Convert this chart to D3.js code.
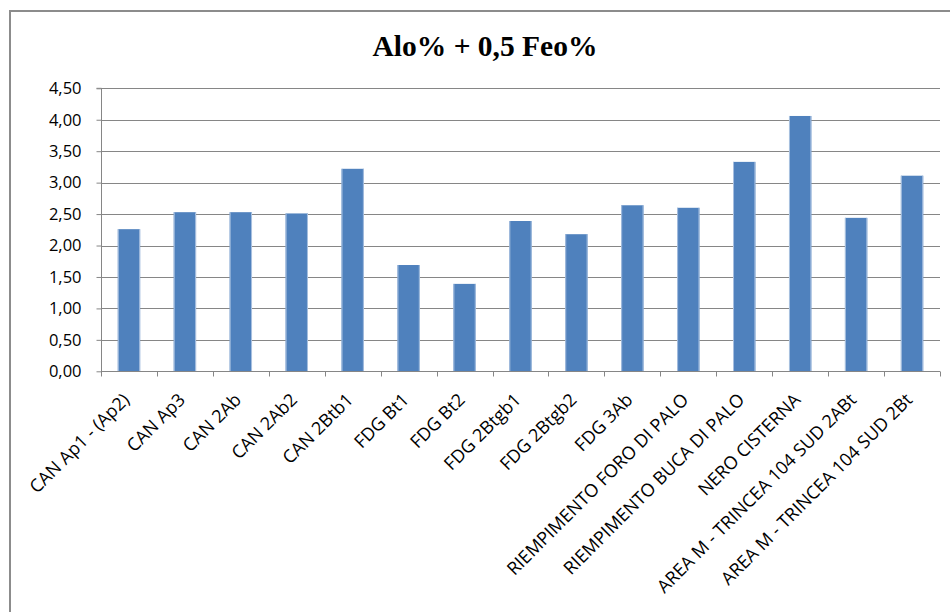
<!DOCTYPE html>
<html>
<head>
<meta charset="utf-8">
<script src="https://cdn.jsdelivr.net/npm/d3@7"></script>
<style>
  html, body { margin: 0; padding: 0; background: #fff; }
  svg { display: block; }
</style>
</head>
<body>
<svg id="chart" width="950" height="612"></svg>
<script>
// Sample horizons and their Alo% + 0,5 Feo% values
const categories = [
  "CAN Ap1 - (Ap2)", "CAN Ap3", "CAN 2Ab", "CAN 2Ab2", "CAN 2Btb1",
  "FDG Bt1", "FDG Bt2", "FDG 2Btgb1", "FDG 2Btgb2", "FDG 3Ab",
  "RIEMPIMENTO FORO DI PALO", "RIEMPIMENTO BUCA DI PALO", "NERO CISTERNA",
  "AREA M - TRINCEA 104 SUD 2ABt", "AREA M - TRINCEA 104 SUD 2Bt"
];
const values = [2.26, 2.53, 2.53, 2.51, 3.22, 1.69, 1.39, 2.39, 2.18, 2.64, 2.60, 3.33, 4.06, 2.44, 3.11];
const yTickValues = [0, 0.5, 1, 1.5, 2, 2.5, 3, 3.5, 4, 4.5];
const yTickLabels = ["0,00", "0,50", "1,00", "1,50", "2,00", "2,50", "3,00", "3,50", "4,00", "4,50"];
const title = "Alo% + 0,5 Feo%";

const svg = d3.select("#chart");
const W = 950, H = 612;
const plot = { left: 101, right: 940, top: 88.3, bottom: 371.3 };
const gridColor = "#868686";
const barColor = "#4f81bd";
const labelFont = "'Open Sans', 'Liberation Sans', sans-serif";

// Chart frame
svg.append("rect")
  .attr("x", 10).attr("y", 11)
  .attr("width", W + 20).attr("height", H + 20)
  .attr("fill", "#fff")
  .attr("stroke", "#8c8c8c")
  .attr("stroke-width", 2);

// Title
svg.append("text")
  .attr("x", 485).attr("y", 56)
  .attr("text-anchor", "middle")
  .attr("font-family", "'Liberation Serif', 'Times New Roman', serif")
  .attr("font-weight", "bold")
  .attr("font-size", 29.5)
  .attr("fill", "#000")
  .text(title);

const x = d3.scaleBand()
  .domain(categories)
  .range([plot.left, plot.right])
  .paddingInner(0.6)
  .paddingOuter(0.3);

const y = d3.scaleLinear()
  .domain([0, 4.5])
  .range([plot.bottom, plot.top]);

// Horizontal gridlines
svg.append("g")
  .selectAll("line")
  .data(yTickValues.filter(v => v > 0))
  .join("line")
  .attr("x1", plot.left).attr("x2", plot.right)
  .attr("y1", d => Math.round(y(d)) + 0.5).attr("y2", d => Math.round(y(d)) + 0.5)
  .attr("stroke", gridColor)
  .attr("stroke-width", 1);

// Bars
const bars = svg.append("g");
bars.selectAll("rect")
  .data(values)
  .join("rect")
  .attr("x", (d, i) => x(categories[i]))
  .attr("y", d => y(d))
  .attr("width", x.bandwidth())
  .attr("height", d => plot.bottom - y(d))
  .attr("fill", barColor);
// light side edges of each bar
bars.selectAll("line.edge")
  .data(values.flatMap((d, i) => [
    { v: d, xp: x(categories[i]) + 0.5 },
    { v: d, xp: x(categories[i]) + x.bandwidth() - 0.5 }
  ]))
  .join("line")
  .attr("class", "edge")
  .attr("x1", d => d.xp).attr("x2", d => d.xp)
  .attr("y1", d => y(d.v)).attr("y2", plot.bottom)
  .attr("stroke", "#a9c1e0")
  .attr("stroke-width", 1);

// Y axis
const yAxis = d3.axisLeft(y)
  .tickValues(yTickValues)
  .tickFormat((d, i) => yTickLabels[i])
  .tickSize(5)
  .tickPadding(15);
const gy = svg.append("g")
  .attr("transform", `translate(${plot.left + 0.5},0)`)
  .call(yAxis);
gy.select(".domain").attr("stroke", gridColor).attr("d", `M-5,${plot.top}H0V${plot.bottom}`);
gy.selectAll(".tick line").attr("stroke", gridColor);
gy.selectAll(".tick text")
  .attr("font-family", labelFont)
  .attr("font-size", 16.5)
  .attr("fill", "#000");

// X axis with ticks at category boundaries
const gx = svg.append("g")
  .attr("transform", `translate(0,${Math.round(plot.bottom) + 0.5})`);
gx.append("line")
  .attr("x1", plot.left).attr("x2", plot.right)
  .attr("stroke", gridColor);
const step = x.step();
gx.selectAll("line.tick")
  .data(d3.range(categories.length + 1))
  .join("line")
  .attr("class", "tick")
  .attr("x1", i => Math.round(plot.left + i * step) + 0.5)
  .attr("x2", i => Math.round(plot.left + i * step) + 0.5)
  .attr("y1", 0).attr("y2", 5)
  .attr("stroke", gridColor);

// Rotated category labels
gx.selectAll("text")
  .data(categories)
  .join("text")
  .attr("transform", d => `translate(${x(d) + x.bandwidth() / 2 - 3},${25}) rotate(-45)`)
  .attr("text-anchor", "end")
  .attr("dy", "0.35em")
  .attr("font-family", labelFont)
  .attr("font-size", 18)
  .attr("fill", "#000")
  .text(d => d);
</script>
</body>
</html>
